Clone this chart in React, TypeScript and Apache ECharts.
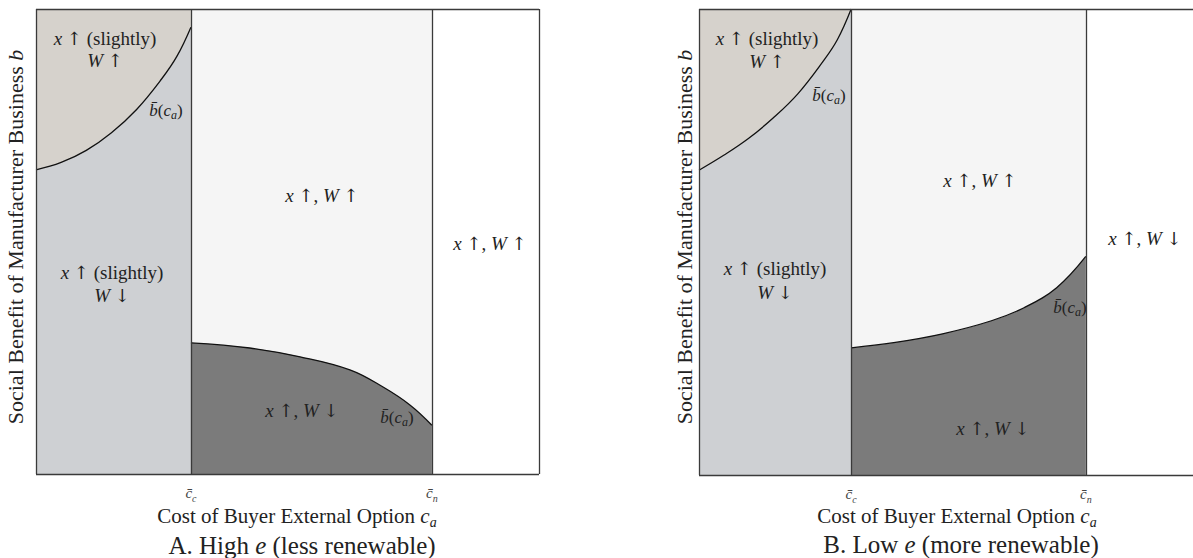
import React, { useEffect, useRef } from "react";
import * as echarts from "echarts";

// ---- Data ----
// Panel A: High e (less renewable)
const ccA = 30.8; // c̄_c position on cost axis (0-100 scale)
const cnA = 78.7; // c̄_n position
const upperAx = [0, 5, 10, 15, 20, 25, 28, 30.8];
const upperAy = [65.4, 67.0, 69.6, 73.4, 78.4, 85.0, 89.8, 96.1];
const lowerAx = [30.8, 42.5, 52.5, 62.4, 69.0, 74.4, 78.7];
const lowerAy = [28.2, 27.1, 25.2, 22.4, 18.7, 14.8, 10.5];

// Panel B: Low e (more renewable)
const ccB = 30.8;
const cnB = 78.3;
const upperBx = [0, 5, 10, 15, 20, 25, 28, 30.8];
const upperBy = [65.4, 68.6, 72.2, 76.6, 81.8, 88.6, 93.4, 100];
const lowerBx = [30.8, 39.4, 49.3, 59.2, 65.8, 72.4, 78.3];
const lowerBy = [27.3, 28.4, 30.3, 33.1, 35.9, 40.2, 46.9];

const tickNames = ["{m|c\u0304}{s|c}", "{m|c\u0304}{s|n}"];

const FONT = "'Liberation Serif', 'DejaVu Serif', serif";
const ARROWFONT = "'DejaVu Serif', 'DejaVu Sans', serif";
const BEIGE = "#d6d2cc";
const LIGHT = "#ced0d3";
const MID = "#f5f5f5";
const DARK = "#7b7b7b";
const EDGE = "#3a3a3a";
const INK = "#222";

const zip = (xs: number[], ys: number[]) => xs.map((x, i) => [x, ys[i]]);

function txt(x: number, y: number, text: string, size = 19, extra: any = {}) {
  const L = Math.round(size * 1.25);
  const r = {
    i: { fontFamily: FONT, fontStyle: "italic", fontSize: size, color: INK, lineHeight: L },
    n: { fontFamily: FONT, fontSize: size, color: INK, lineHeight: L },
    a: { fontFamily: ARROWFONT, fontSize: Math.round(size * 0.95), color: INK, lineHeight: L },
    s: {
      fontFamily: FONT,
      fontStyle: "italic",
      fontSize: Math.round(size * 0.68),
      color: INK,
      verticalAlign: "bottom",
    },
  };
  return {
    type: "text",
    x,
    y,
    z: 100,
    ...extra,
    style: {
      text,
      rich: r,
      fontFamily: FONT,
      fontSize: size,
      fill: INK,
      align: "center",
      verticalAlign: "middle",
    },
  };
}

const UP = "{a|↑}";
const DN = "{a|↓}";
const bbar = "{i|b\u0304}{n|(}{i|c}{s|a}{n|)}";

function panelSeries(
  gi: number,
  cc: number,
  cn: number,
  up: number[][],
  low: number[][],
  rightEdge: boolean
) {
  const frame: any[] = [{ yAxis: 0 }, { yAxis: 100 }, { xAxis: 0 }, { xAxis: cc }, { xAxis: cn }];
  if (rightEdge) frame.push({ xAxis: 100 });
  return [
    {
      type: "line",
      xAxisIndex: gi,
      yAxisIndex: gi,
      data: [],
      z: 1,
      silent: true,
      markArea: {
        silent: true,
        data: [
          [
            { xAxis: 0, yAxis: 0, itemStyle: { color: BEIGE } },
            { xAxis: cc, yAxis: 100 },
          ],
          [
            { xAxis: cc, yAxis: 0, itemStyle: { color: MID } },
            { xAxis: cn, yAxis: 100 },
          ],
        ],
      },
    },
    {
      type: "line",
      xAxisIndex: gi,
      yAxisIndex: gi,
      data: up,
      smooth: 0.4,
      symbol: "none",
      z: 2,
      silent: true,
      lineStyle: { color: "#111", width: 1.3 },
      areaStyle: { color: LIGHT, opacity: 1 },
    },
    {
      type: "line",
      xAxisIndex: gi,
      yAxisIndex: gi,
      data: low,
      smooth: 0.4,
      symbol: "none",
      z: 2,
      silent: true,
      lineStyle: { color: "#111", width: 1.3 },
      areaStyle: { color: DARK, opacity: 1 },
    },
    {
      type: "line",
      xAxisIndex: gi,
      yAxisIndex: gi,
      data: [],
      z: 5,
      clip: false,
      silent: true,
      markLine: {
        silent: true,
        symbol: "none",
        label: { show: false },
        lineStyle: { color: EDGE, width: 1.3, type: "solid" },
        data: frame,
      },
    },
  ];
}

export default function App() {
  const ref = useRef<HTMLDivElement>(null);
  useEffect(() => {
    if (!ref.current) return;
    const chart = echarts.init(ref.current, undefined, { renderer: "svg" });
    const xAxisBase = (gi: number, cc: number, cn: number) => ({
      gridIndex: gi,
      type: "value",
      min: 0,
      max: 100,
      axisLine: { show: false },
      axisTick: { show: false },
      splitLine: { show: false },
      axisLabel: {
        show: true,
        customValues: [cc, cn],
        margin: 9,
        formatter: (v: number) => (Math.abs(v - cc) < 0.01 ? tickNames[0] : tickNames[1]),
        rich: {
          m: { fontFamily: FONT, fontStyle: "italic", fontSize: 15, color: "#444", lineHeight: 20 },
          s: { fontFamily: FONT, fontStyle: "italic", fontSize: 10, color: "#444", verticalAlign: "bottom" },
        },
      },
    });
    const yAxisBase = (gi: number) => ({
      gridIndex: gi,
      type: "value",
      min: 0,
      max: 100,
      axisLine: { show: false },
      axisTick: { show: false },
      splitLine: { show: false },
      axisLabel: { show: false },
    });
    chart.setOption({
      animation: false,
      backgroundColor: "#ffffff",
      grid: [
        { left: 36, top: 9, width: 503, height: 465, show: true, backgroundColor: "#fff", borderWidth: 0 },
        { left: 699, top: 9, width: 503, height: 466, show: true, backgroundColor: "#fff", borderWidth: 0 },
      ],
      xAxis: [xAxisBase(0, ccA, cnA), xAxisBase(1, ccB, cnB)],
      yAxis: [yAxisBase(0), yAxisBase(1)],
      series: [
        ...panelSeries(0, ccA, cnA, zip(upperAx, upperAy), zip(lowerAx, lowerAy), true),
        ...panelSeries(1, ccB, cnB, zip(upperBx, upperBy), zip(lowerBx, lowerBy), false),
      ],
      graphic: [
        // Panel A annotations
        txt(105, 38, `{i|x}{n| }${UP}{n| (slightly)}`),
        txt(105, 60, `{i|W}{n| }${UP}`),
        txt(166, 110, bbar, 17),
        txt(322, 195, `{i|x}{n| }${UP}{n|, }{i|W}{n| }${UP}`),
        txt(112, 272, `{i|x}{n| }${UP}{n| (slightly)}`),
        txt(112, 295, `{i|W}{n| }${DN}`),
        txt(302, 410, `{i|x}{n| }${UP}{n|, }{i|W}{n| }${DN}`),
        txt(397, 417, bbar, 17),
        txt(490, 243, `{i|x}{n| }${UP}{n|, }{i|W}{n| }${UP}`),
        // Panel B annotations
        txt(767, 38, `{i|x}{n| }${UP}{n| (slightly)}`),
        txt(767, 61, `{i|W}{n| }${UP}`),
        txt(829, 95, bbar, 17),
        txt(980, 180, `{i|x}{n| }${UP}{n|, }{i|W}{n| }${UP}`),
        txt(775, 268, `{i|x}{n| }${UP}{n| (slightly)}`),
        txt(775, 292, `{i|W}{n| }${DN}`),
        txt(1145, 238, `{i|x}{n| }${UP}{n|, }{i|W}{n| }${DN}`),
        txt(1070, 307, bbar, 17),
        txt(993, 428, `{i|x}{n| }${UP}{n|, }{i|W}{n| }${DN}`),
        // Axis titles
        txt(297, 516, "{n|Cost of Buyer External Option }{i|c}{s|a}", 21),
        txt(957, 516, "{n|Cost of Buyer External Option }{i|c}{s|a}", 21),
        txt(302, 545, "{n|A. High }{i|e}{n| (less renewable)}", 25),
        txt(961, 544, "{n|B. Low }{i|e}{n| (more renewable)}", 25),
        txt(15, 237, "{n|Social Benefit of Manufacturer Business }{i|b}", 22, { rotation: Math.PI / 2 }),
        txt(684, 237, "{n|Social Benefit of Manufacturer Business }{i|b}", 22, { rotation: Math.PI / 2 }),
      ],
    });
    return () => chart.dispose();
  }, []);
  return (
    <div
      ref={ref}
      style={{ position: "fixed", left: 0, top: 0, width: 1193, height: 558, background: "#fff" }}
    />
  );
}
